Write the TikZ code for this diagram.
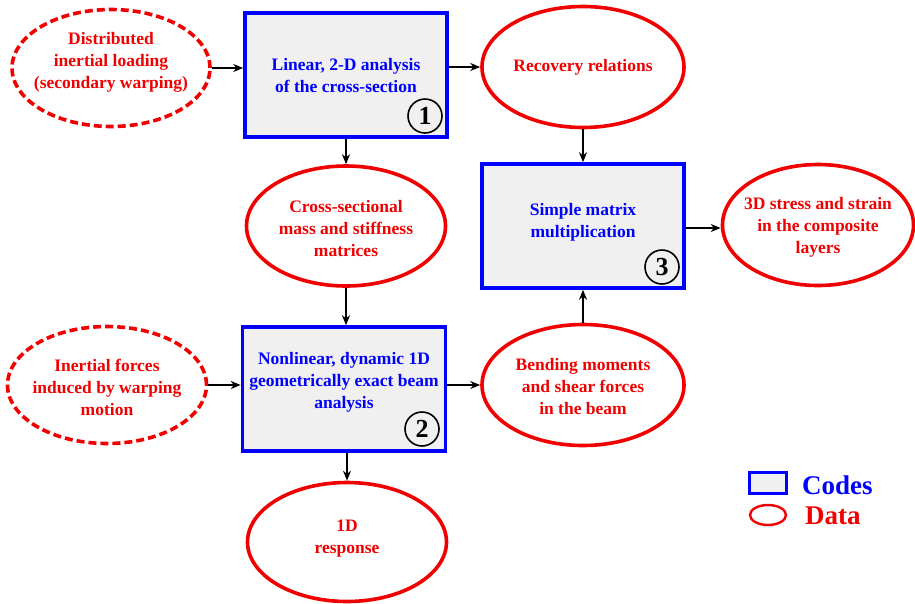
\documentclass[tikz,border=0pt]{standalone}
\usepackage{fontspec}
\setmainfont{Liberation Serif}
\usetikzlibrary{shapes.geometric,arrows.meta}
\definecolor{codeblue}{RGB}{0,0,255}
\definecolor{datared}{RGB}{240,0,0}
\definecolor{boxgray}{RGB}{240,240,240}
\begin{document}
\begin{tikzpicture}[x=1pt,y=-1pt,
  codebox/.style={rectangle,draw=codeblue,fill=boxgray,line width=3.6pt,inner sep=0pt},
  datael/.style={ellipse,draw=datared,line width=3.6pt,inner sep=0pt},
  dashel/.style={datael,dash pattern=on 8pt off 4pt},
  ctext/.style={text=codeblue,font=\bfseries\fontsize{17.5}{22}\selectfont,align=center,inner sep=0pt},
  dtext/.style={text=datared,font=\bfseries\fontsize{17.5}{22}\selectfont,align=center,inner sep=0pt},
  numc/.style={circle,draw=black,line width=1.6pt,minimum size=34pt,inner sep=0pt,font=\bfseries\fontsize{26}{28}\selectfont},
  arr/.style={draw=black,line width=1.7pt,-{Stealth[length=10pt,width=8pt]}}
]
\useasboundingbox (0,0) rectangle (915,603);

% Codes
\node[codebox,minimum width=202pt,minimum height=124pt] (b1) at (346,75) {};
\node[ctext] (b1t) at (346,76) {Linear, 2-D analysis\\of the cross-section};
\node[numc] (n1) at (425,116) {1};

\node[codebox,minimum width=202pt,minimum height=124pt] (b3) at (583,226) {};
\node[ctext] (b3t) at (583,222) {Simple matrix\\multiplication};
\node[numc] (n3) at (662,267) {3};

\node[codebox,minimum width=203pt,minimum height=124pt] (b2) at (344,389) {};
\node[ctext] (b2t) at (344,382) {Nonlinear, dynamic 1D\\geometrically exact beam\\analysis};
\node[numc] (n2) at (422,429) {2};

% Data
\node[dashel,minimum width=198pt,minimum height=117pt] (dist) at (111,68) {};
\node[dtext] (distt) at (111,62) {Distributed\\inertial loading\\(secondary warping)};

\node[datael,minimum width=202pt,minimum height=121pt] (rec) at (583,67) {};
\node[dtext] (rect) at (583,67) {Recovery relations};

\node[datael,minimum width=199pt,minimum height=120pt] (cross) at (346,226) {};
\node[dtext] (crosst) at (346,229) {Cross-sectional\\mass and stiffness\\matrices};

\node[datael,minimum width=191pt,minimum height=121pt] (stress) at (818,225) {};
\node[dtext] (stresst) at (818,227) {3D stress and strain\\in the composite\\layers};

\node[dashel,minimum width=199pt,minimum height=117pt] (inert) at (107,385) {};
\node[dtext] (inertt) at (107,387) {Inertial forces\\induced by warping\\motion};

\node[datael,minimum width=202pt,minimum height=121pt] (bend) at (583,385) {};
\node[dtext] (bendt) at (583,387) {Bending moments\\and shear forces\\in the beam};

\node[datael,minimum width=199pt,minimum height=119pt] (resp) at (347,542) {};
\node[dtext] (respt) at (347,539) {1D\\response};

% Arrows
\draw[arr] (dist.east) -- (dist.east -| b1.west);
\draw[arr] (rec.west -| b1.east) -- (rec.west);
\draw[arr] (b1.south) -- (b1.south |- cross.north);
\draw[arr] (cross.south) -- (cross.south |- b2.north);
\draw[arr] (rec.south) -- (rec.south |- b3.north);
\draw[arr] (bend.north) -- (bend.north |- b3.south);
\draw[arr] ([yshift=-2pt]b3.east) -- ([yshift=-2pt]b3.east -| stress.west);
\draw[arr] (inert.east) -- (inert.east -| b2.west);
\draw[arr] (bend.west -| b2.east) -- (bend.west);
\draw[arr] (resp.north |- b2.south) -- (resp.north);

% Legend
\node[codebox,minimum width=37pt,minimum height=21pt] (lc) at (768,483) {};
\node[anchor=west,text=codeblue,font=\bfseries\fontsize{27}{30}\selectfont,inner sep=0pt] (lct) at (802,485) {Codes};
\node[ellipse,draw=datared,line width=2.4pt,minimum width=36pt,minimum height=20pt,inner sep=0pt] (ld) at (768,515) {};
\node[anchor=west,text=datared,font=\bfseries\fontsize{27}{30}\selectfont,inner sep=0pt] (ldt) at (805,516) {Data};
\end{tikzpicture}
\end{document}
